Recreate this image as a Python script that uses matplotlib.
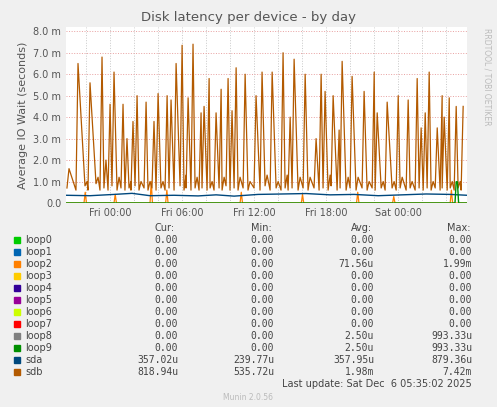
import numpy as np
import matplotlib.pyplot as plt
import matplotlib.dates as mdates
from datetime import datetime, timedelta

# sdb latency (ms) peaks, as (hour offset, value)
peak_hours = [0.25, 1.0, 1.75, 2.0, 2.67, 3.0, 3.33, 3.67, 4.0, 4.42, 4.75, 5.08, 5.42, 5.58, 5.92,
              6.25, 6.67, 7.0, 7.33, 7.67, 8.08, 8.42, 8.75, 9.17, 9.67, 10.0, 10.17, 10.58, 10.92,
              11.25, 11.5, 11.92, 12.17, 12.5, 12.92, 13.17, 13.5, 13.83, 14.17, 14.5, 14.92, 15.33,
              15.83, 16.33, 16.75, 17.17, 17.67, 18.08, 18.42, 18.67, 19.0, 19.5, 19.92, 20.33, 20.83,
              21.25, 21.58, 22.0, 22.25, 22.75, 23.0, 23.5, 23.83, 24.33, 24.83, 25.25, 25.67, 25.92,
              26.42, 26.75, 27.33, 27.67, 28.0, 28.5, 28.83, 29.25, 29.58, 29.92, 30.25, 30.58, 30.92,
              31.33, 31.5, 31.92, 32.17, 32.5, 32.83, 33.08, 33.42]
peak_vals = [1.6, 6.5, 1.0, 5.6, 1.2, 6.8, 2.0, 4.6, 6.1, 1.2, 4.6, 3.0, 1.0, 3.8, 5.0,
             1.0, 4.7, 1.0, 3.8, 5.1, 1.0, 5.0, 4.8, 6.5, 7.35, 1.3, 4.9, 7.4, 1.2,
             4.2, 4.5, 5.8, 1.0, 4.2, 5.3, 1.2, 5.8, 4.3, 6.3, 1.2, 6.0, 1.0,
             5.0, 6.1, 1.3, 6.1, 1.0, 7.0, 1.3, 4.0, 6.7, 1.2, 6.0, 1.2, 3.0,
             6.0, 5.2, 1.3, 5.0, 3.4, 6.6, 1.2, 5.9, 1.2, 5.2, 1.0, 6.1, 4.2,
             1.0, 4.7, 1.0, 5.0, 1.2, 4.8, 1.0, 5.8, 3.5, 4.2, 6.1, 1.0, 3.5,
             5.0, 4.0, 4.9, 1.0, 4.5, 1.0, 4.5, 0.8]
trough_vals = [0.7, 0.6, 0.8, 0.6, 0.9, 0.6, 0.7, 0.6, 0.8, 0.6, 0.7, 0.6, 0.7, 0.6, 0.8,
               0.6, 0.7, 0.6, 0.7, 0.6, 0.7, 0.6, 0.7, 0.6, 0.8, 0.6, 0.7, 0.6, 0.7,
               0.6, 0.7, 0.6, 0.7, 0.6, 0.7, 0.6, 0.8, 0.6, 0.7, 0.6, 0.7, 0.6,
               0.7, 0.6, 0.8, 0.6, 0.7, 0.6, 0.7, 0.6, 0.7, 0.6, 0.7, 0.6, 0.7,
               0.6, 0.7, 0.6, 0.8, 0.6, 0.7, 0.6, 0.7, 0.6, 0.7, 0.6, 0.7, 0.6,
               0.7, 0.6, 0.7, 0.6, 0.7, 0.6, 0.7, 0.6, 0.7, 0.6, 0.7, 0.6, 0.7,
               0.6, 0.7, 0.6, 0.7, 0.6, 0.7, 0.6]

sda_hours = [0, 2, 4, 5.5, 7, 9, 11, 12.5, 14, 16, 18, 20, 22, 24, 26, 28, 30, 32, 33.4]
sda_vals = [0.36, 0.34, 0.40, 0.45, 0.34, 0.36, 0.33, 0.38, 0.32, 0.40, 0.42, 0.44, 0.38, 0.40, 0.34, 0.38, 0.42, 0.40, 0.36]

loop2_hours = [0, 1.5, 1.6, 1.7, 4.0, 4.1, 4.2, 7.0, 7.1, 7.2, 8.3, 8.4, 8.5, 14.5, 14.6, 14.7,
               19.6, 19.7, 19.8, 24.2, 24.3, 24.4, 27.2, 27.3, 27.4, 32.0, 32.1, 32.2, 33.4]
loop2_vals = [0, 0, 0.5, 0, 0, 0.4, 0, 0, 1.0, 0, 0, 0.6, 0, 0, 0.5, 0,
              0, 0.4, 0, 0, 0.5, 0, 0, 0.3, 0, 0, 0.6, 0, 0]
loop9_hours = [0, 32.4, 32.5, 32.6, 32.7, 33.4]
loop9_vals = [0, 0, 0.99, 0.99, 0, 0]

names = ['loop0', 'loop1', 'loop2', 'loop3', 'loop4', 'loop5', 'loop6', 'loop7', 'loop8', 'loop9', 'sda', 'sdb']
colors = ['#00cc00', '#0066b3', '#ff8000', '#ffcc00', '#330099', '#990099', '#ccff00', '#ff0000',
          '#808080', '#008f00', '#00487d', '#b35a00']
cur = ['0.00'] * 10 + ['357.02u', '818.94u']
mins = ['0.00'] * 10 + ['239.77u', '535.72u']
avgs = ['0.00', '0.00', '71.56u'] + ['0.00'] * 5 + ['2.50u', '2.50u', '357.95u', '1.98m']
maxs = ['0.00', '0.00', '1.99m'] + ['0.00'] * 5 + ['993.33u', '993.33u', '879.36u', '7.42m']

start = datetime(2025, 12, 4, 20, 20)
def to_t(hs):
    return [start + timedelta(hours=h) for h in hs]

sdb_h, sdb_v = [], []
for h, p, t in zip(peak_hours, peak_vals, trough_vals):
    sdb_h += [h - 0.17, h]
    sdb_v += [t, p]

fig = plt.figure(figsize=(4.97, 4.07), dpi=100, facecolor='#f0f0f0')
ax = fig.add_axes([66/497, 1 - 203/407, 401/497, 176/407])
ax.set_facecolor('white')
ax.plot(to_t(loop2_hours), loop2_vals, color=colors[2], lw=0.9)
ax.plot(to_t(sda_hours), sda_vals, color=colors[10], lw=1.0)
ax.plot(to_t(sdb_h), sdb_v, color=colors[11], lw=0.9)
ax.plot(to_t(loop9_hours), loop9_vals, color=colors[9], lw=1.0)
ax.set_xlim(start, start + timedelta(hours=33.4))
ax.set_ylim(0, 8.2)
ax.set_yticks(np.arange(0, 8.5, 1.0))
ax.set_yticklabels([f'{v:.1f}' if v == 0 else f'{v:.1f} m' for v in np.arange(0, 8.5, 1.0)], fontsize=7, color='#555555')
ax.xaxis.set_major_locator(mdates.HourLocator(byhour=[0, 6, 12, 18]))
ax.xaxis.set_major_formatter(mdates.DateFormatter('%a %H:%M'))
ax.xaxis.set_minor_locator(mdates.HourLocator(interval=2))
ax.tick_params(labelsize=7, colors='#555555', length=0, which='both')
ax.grid(True, axis='y', color='#e8a0a0', ls=':', lw=0.7)
ax.grid(True, axis='x', which='both', color='#c8c8c8', ls=':', lw=0.7)
for s in ax.spines.values():
    s.set_visible(False)
ax.set_ylabel('Average IO Wait (seconds)', fontsize=8, color='#555555')
fig.text(0.5, 1 - 18/407, 'Disk latency per device - by day', ha='center', va='center', fontsize=9.5, color='#555555')
fig.text(487/497, 0.93, 'RRDTOOL / TOBI OETIKER', rotation=270, va='top', ha='center', fontsize=5.5, color='#bbbbbb')

def fy(py):
    return 1 - py / 407
for x, h in [(175, 'Cur:'), (272, 'Min:'), (372, 'Avg:'), (470, 'Max:')]:
    fig.text(x/497, fy(228), h, ha='right', va='center', fontsize=7, color='#444444')
for i, n in enumerate(names):
    y = fy(240 + i * 12.0)
    fig.patches.append(plt.Rectangle((14/497, y - 3/407), 6/497, 6/407, transform=fig.transFigure,
                                     color=colors[i], figure=fig))
    fig.text(25/497, y, n, va='center', fontsize=7, color='#444444')
    for x, v in [(178, cur[i]), (274, mins[i]), (374, avgs[i]), (472, maxs[i])]:
        fig.text(x/497, y, v, ha='right', va='center', fontsize=7, family='DejaVu Sans Mono', color='#444444')
fig.text(472/497, fy(384), 'Last update: Sat Dec  6 05:35:02 2025', ha='right', va='center', fontsize=7, color='#444444')
fig.text(248/497, fy(397), 'Munin 2.0.56', ha='center', va='center', fontsize=5.5, color='#bbbbbb')

fig.savefig('out.png', dpi=100, facecolor=fig.get_facecolor())
